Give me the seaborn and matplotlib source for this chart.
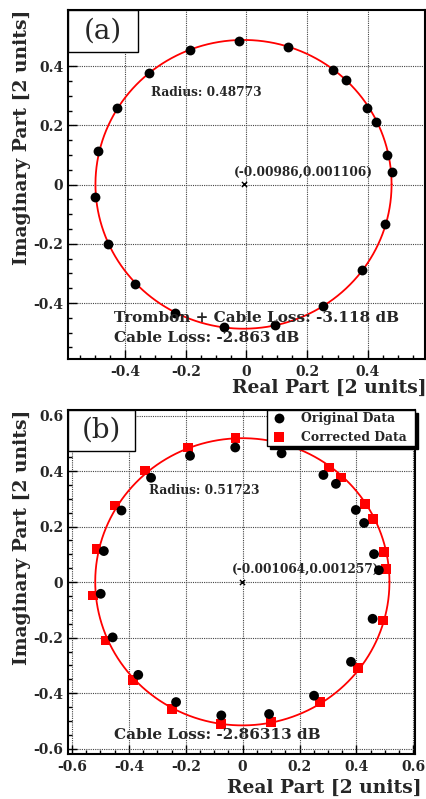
import numpy as np
import pandas as pd
import matplotlib
matplotlib.use("Agg")
import matplotlib.pyplot as plt
from matplotlib.ticker import MultipleLocator, FuncFormatter
from matplotlib.patches import Rectangle
import seaborn as sns

# ---------------- data ----------------
orig_re = [-0.026, -0.185, 0.137, -0.322, 0.284, 0.328, -0.426, 0.398, 0.427, -0.488,
           0.462, 0.479, -0.499, 0.457, -0.457, 0.381, -0.367, 0.251, -0.234, -0.075, 0.093]
orig_im = [0.485, 0.455, 0.464, 0.376, 0.386, 0.354, 0.258, 0.260, 0.213, 0.112,
           0.101, 0.043, -0.042, -0.132, -0.199, -0.287, -0.334, -0.409, -0.432, -0.480, -0.475]

corr_re = [-0.025, -0.192, 0.155, -0.342, 0.303, 0.347, -0.450, 0.429, 0.458, -0.514,
           0.496, 0.505, -0.526, 0.493, -0.482, 0.405, -0.386, 0.271, -0.247, -0.077, 0.101]
corr_im = [0.519, 0.485, 0.505, 0.402, 0.413, 0.377, 0.276, 0.281, 0.228, 0.119,
           0.109, 0.048, -0.048, -0.138, -0.210, -0.308, -0.353, -0.432, -0.458, -0.512, -0.503]

center_a = (-0.00986, 0.001106)
radius_a = 0.48773
center_b = (-0.001064, 0.001257)
radius_b = 0.51723

series_names = ["Original Data", "Corrected Data"]
loss_a_trombon = "-3.118"
loss_a_cable = "-2.863"
loss_b_cable = "-2.86313"

# ---------------- style ----------------
sns.set_theme(style="ticks")
plt.rcParams["font.family"] = ["DejaVu Serif", "Liberation Serif"]
plt.rcParams["font.weight"] = "bold"
plt.rcParams["axes.labelweight"] = "bold"

fig = plt.figure(figsize=(4.27, 7.99), dpi=100)
ax_a = fig.add_axes([68/427, 1-359/799, (425-68)/427, (359-10)/799])
ax_b = fig.add_axes([68/427, 1-754/799, (415-68)/427, (754-410)/799])

fmt = FuncFormatter(lambda v, p: "%g" % round(v, 3))

TICK_FS = 10
LABEL_FS = 13.5
NOTE_FS = 8.7
BIG_FS = 11


def style_axes(ax, xlim, ylim):
    ax.set_xlim(*xlim)
    ax.set_ylim(*ylim)
    ax.xaxis.set_major_locator(MultipleLocator(0.2))
    ax.yaxis.set_major_locator(MultipleLocator(0.2))
    ax.xaxis.set_minor_locator(MultipleLocator(0.05))
    ax.yaxis.set_minor_locator(MultipleLocator(0.05))
    ax.xaxis.set_major_formatter(fmt)
    ax.yaxis.set_major_formatter(fmt)
    ax.tick_params(which="both", direction="in", top=False, right=False,
                   color="black", width=1)
    ax.tick_params(which="major", length=6.5, labelsize=TICK_FS)
    ax.tick_params(which="minor", length=3.2)
    ax.tick_params(axis="x", which="major", pad=4.5)
    ax.tick_params(axis="y", which="major", pad=3.5)
    for lab in ax.get_xticklabels() + ax.get_yticklabels():
        lab.set_fontweight("bold")
    ax.grid(True, which="major", color="#444444", linestyle=(0, (1, 1)), linewidth=0.8)
    for s in ax.spines.values():
        s.set_linewidth(1.5)
        s.set_color("black")
        s.set_visible(True)
    ax.set_axisbelow(True)


def draw_circle(ax, center, radius):
    t = np.linspace(0, 2*np.pi, 500)
    ax.plot(center[0] + radius*np.cos(t), center[1] + radius*np.sin(t),
            color="#ff0000", lw=1.3, zorder=2)
    ax.scatter([center[0]], [center[1]], marker="x", s=14, color="black",
               linewidths=1.0, zorder=4)


def labels(ax, xl_coords, yl_coords):
    ax.set_xlabel("Real Part [2 units]", fontsize=LABEL_FS, fontweight="bold")
    ax.set_ylabel("Imaginary Part [2 units]", fontsize=LABEL_FS, fontweight="bold")
    ax.xaxis.set_label_coords(*xl_coords)
    ax.xaxis.label.set_ha("right")
    ax.xaxis.label.set_va("center")
    ax.yaxis.set_label_coords(*yl_coords)
    ax.yaxis.label.set_rotation_mode("anchor")
    ax.yaxis.label.set_ha("right")
    ax.yaxis.label.set_va("center")


def tag(ax, text, w, h, tx, ty):
    ax.add_patch(Rectangle((0, 1-h), w, h, transform=ax.transAxes, facecolor="white",
                           edgecolor="black", lw=1.0, zorder=6, clip_on=False))
    ax.text(tx, ty, text, transform=ax.transAxes, ha="center", va="center",
            fontsize=20, fontweight="normal", zorder=7)


# ---------------- panel (a) ----------------
df_a = pd.DataFrame({"re": orig_re, "im": orig_im})
draw_circle(ax_a, center_a, radius_a)
sns.scatterplot(data=df_a, x="re", y="im", ax=ax_a, color="black", marker="o",
                s=50, linewidth=0, zorder=5, legend=False)
style_axes(ax_a, (-0.588, 0.588), (-0.589, 0.59))
labels(ax_a, ((427-68)/357, (359-388)/349), ((22-68)/357, 1.0))
tag(ax_a, "(a)", (138-68)/357, (52-10)/349, (103-68)/357, (359-31)/349)
ax_a.text(-0.313, 0.311, "Radius: %.5f" % radius_a, fontsize=NOTE_FS, va="center", ha="left", zorder=3)
ax_a.text(-0.04, 0.0415, "(%g,%g)" % center_a, fontsize=NOTE_FS, va="center", ha="left", zorder=3)
ax_a.text(-0.435, -0.452, "Trombon + Cable Loss: %s dB" % loss_a_trombon, fontsize=BIG_FS,
          va="center", ha="left", zorder=6)
ax_a.text(-0.435, -0.519, "Cable Loss: %s dB" % loss_a_cable, fontsize=BIG_FS,
          va="center", ha="left", zorder=6)

# ---------------- panel (b) ----------------
df_b = pd.concat([
    pd.DataFrame({"re": corr_re, "im": corr_im, "series": series_names[1]}),
    pd.DataFrame({"re": orig_re, "im": orig_im, "series": series_names[0]}),
], ignore_index=True)
draw_circle(ax_b, center_b, radius_b)
sns.scatterplot(data=df_b, x="re", y="im", hue="series", style="series",
                hue_order=series_names, style_order=series_names,
                palette={series_names[0]: "black", series_names[1]: "#ff0000"},
                markers={series_names[0]: "o", series_names[1]: "s"},
                s=50, linewidth=0, ax=ax_b, zorder=5)
style_axes(ax_b, (-0.614, 0.606), (-0.619, 0.62))
labels(ax_b, ((421.7-68)/347, (754-788)/344), ((22-68)/347, 1.0))
tag(ax_b, "(b)", (135-68)/347, (451-410)/344, (101.5-68)/347, (754-430.5)/344)
ax_b.text(-0.328, 0.33, "Radius: %.5f" % radius_b, fontsize=NOTE_FS, va="center", ha="left", zorder=3)
ax_b.text(-0.037, 0.048, "(%g,%g)" % center_b, fontsize=NOTE_FS, va="center", ha="left", zorder=3)
ax_b.text(-0.453, -0.55, "Cable Loss: %s dB" % loss_b_cable, fontsize=BIG_FS,
          va="center", ha="left", zorder=6)

handles, labs = ax_b.get_legend_handles_labels()
leg = ax_b.legend(handles, labs, loc="upper left",
                  bbox_to_anchor=((267-68)/347, 0.0, (415-267)/347, 1.0),
                  mode="expand", borderaxespad=0, frameon=True, fancybox=False,
                  shadow={"color": "black", "alpha": 1},
                  prop={"weight": "bold", "size": 8.9},
                  handlelength=1.6, handletextpad=1.0, borderpad=0.15,
                  labelspacing=0.5, markerscale=1.0)
leg.get_frame().set_edgecolor("black")
leg.get_frame().set_linewidth(1.0)
leg.set_zorder(10)

fig.savefig("out.png", dpi=100)
